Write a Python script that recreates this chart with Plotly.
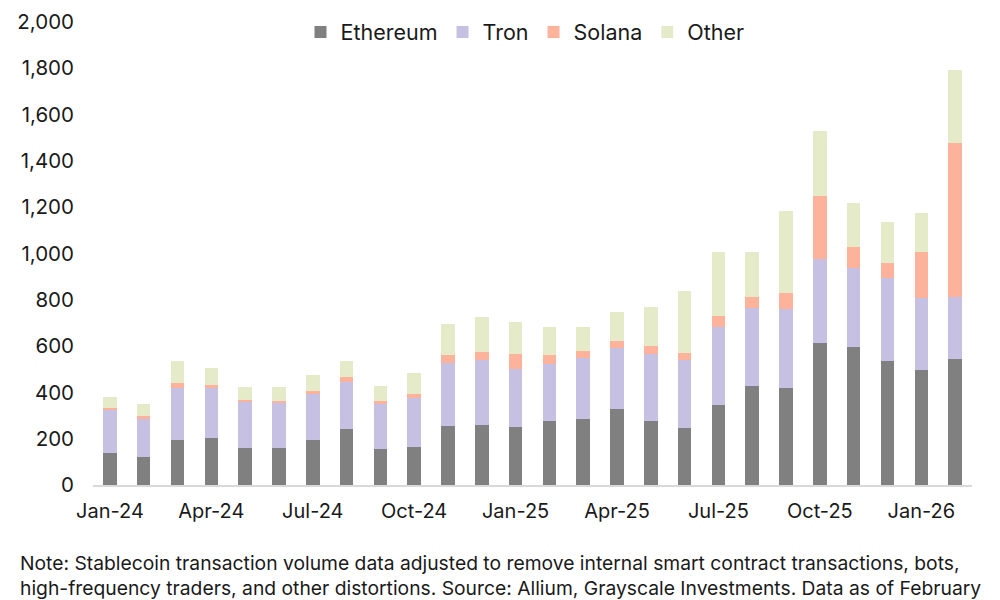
import plotly.graph_objects as go

months = ["Jan-24", "Feb-24", "Mar-24", "Apr-24", "May-24", "Jun-24", "Jul-24", "Aug-24",
          "Sep-24", "Oct-24", "Nov-24", "Dec-24", "Jan-25", "Feb-25", "Mar-25", "Apr-25",
          "May-25", "Jun-25", "Jul-25", "Aug-25", "Sep-25", "Oct-25", "Nov-25", "Dec-25",
          "Jan-26", "Feb-26"]

ethereum = [138, 121, 193, 204, 161, 161, 193, 242, 157, 164, 255, 259, 249, 275, 287, 328,
            276, 248, 347, 426, 418, 613, 595, 536, 495, 544]
tron = [186, 164, 227, 215, 196, 192, 200, 204, 193, 213, 273, 279, 252, 248, 260, 265,
        291, 292, 337, 337, 342, 362, 344, 360, 311, 270]
solana = [9, 12, 22, 14, 10, 11, 13, 21, 11, 17, 34, 35, 63, 37, 33, 30,
          32, 31, 46, 51, 71, 275, 87, 63, 202, 662]
other = [47, 54, 94, 74, 55, 58, 68, 69, 67, 91, 132, 153, 140, 124, 104, 124,
         171, 266, 278, 194, 354, 279, 191, 178, 167, 315]

tick_labels = ["Jan-24", "Apr-24", "Jul-24", "Oct-24", "Jan-25", "Apr-25", "Jul-25", "Oct-25", "Jan-26"]
y_ticks = [0, 200, 400, 600, 800, 1000, 1200, 1400, 1600, 1800, 2000]

note_lines = [
    "Note: Stablecoin transaction volume data adjusted to remove internal smart contract transactions, bots,",
    "high-frequency traders, and other distortions. Source: Allium, Grayscale Investments. Data as of February",
]

series = [
    ("Ethereum", ethereum, "#808080"),
    ("Tron", tron, "#C6C0E2"),
    ("Solana", solana, "#FDB29B"),
    ("Other", other, "#E5EBC9"),
]

FONT = "Inter, Liberation Sans, Arial, sans-serif"
TXT = "#1a1a1a"

# page offset compensation (browser body margin ~8px)
L, T, B, R = 85, 14, 123, 36
PLOT_H = 600 - T - B
PLOT_W = 1000 - L - R

fig = go.Figure()
for name, vals, color in series:
    fig.add_trace(go.Bar(x=months, y=vals, name=name, marker=dict(color=color, line=dict(width=0))))

fig.update_layout(
    barmode="stack",
    bargap=0.6,
    width=1000, height=600,
    margin=dict(l=L, r=R, t=T, b=B, autoexpand=False),
    paper_bgcolor="white",
    plot_bgcolor="white",
    font=dict(family=FONT, size=19, color=TXT),
    legend=dict(orientation="h", x=(525 - 8 - L) / PLOT_W, xanchor="center",
                y=(600 - B - (32 - 8)) / PLOT_H, yanchor="middle",
                font=dict(size=21.5, color=TXT), bgcolor="rgba(0,0,0,0)",
                traceorder="normal", itemwidth=30),
    showlegend=True,
)
fig.update_xaxes(
    type="category", automargin=False,
    tickmode="array", tickvals=tick_labels, ticktext=tick_labels,
    showline=True, linecolor="#D9D9D9", linewidth=1.5,
    ticks="", showgrid=False, tickfont=dict(size=20, color=TXT),
    ticklabelstandoff=7,
)
fig.update_yaxes(
    range=[0, 2000], automargin=False, tickmode="array", tickvals=y_ticks,
    ticktext=[f"{v:,}" for v in y_ticks],
    showgrid=False, zeroline=False, showline=False, ticks="",
    tickfont=dict(size=20.5, color=TXT),
    ticklabelstandoff=18,
)

for i, (line, ypage) in enumerate(zip(note_lines, [563, 588])):
    fig.add_annotation(
        text=line, xref="paper", yref="paper",
        x=(18 - 8 - L) / PLOT_W, y=(600 - B - (ypage - 8)) / PLOT_H,
        xanchor="left", yanchor="middle", showarrow=False, align="left",
        font=dict(size=19.3, family=FONT, color=TXT),
    )

fig.write_html("out.html")
